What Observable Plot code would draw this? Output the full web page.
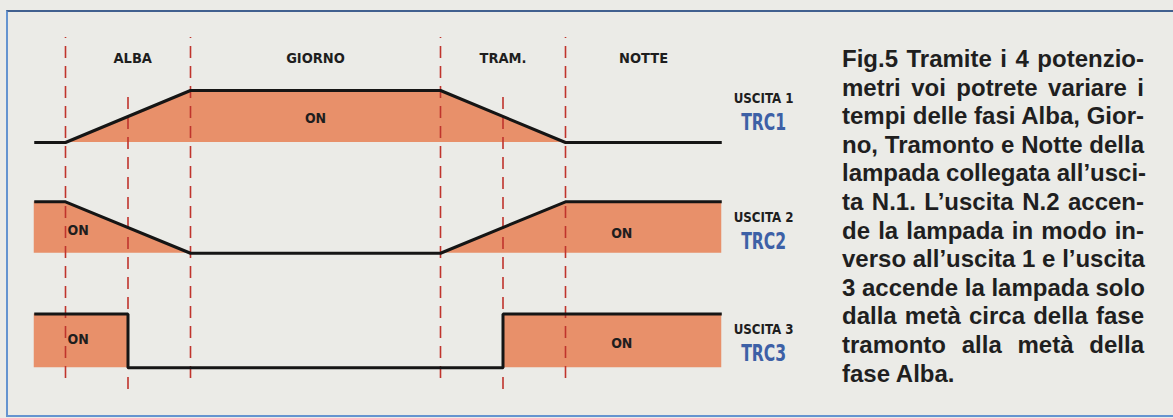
<!DOCTYPE html>
<html>
<head>
<meta charset="utf-8">
<script src="https://cdn.jsdelivr.net/npm/d3@7"></script>
<script src="https://cdn.jsdelivr.net/npm/@observablehq/plot@0.6"></script>
<style>
  html, body { margin: 0; padding: 0; background: #ebebe7; }
  #page { position: relative; width: 1173px; height: 418px; overflow: hidden; background: #ebebe7; }
  #frame { position: absolute; left: 6px; top: 10px; right: -4px; bottom: 1px;
           border-top: 2px solid #41608f; border-left: 2px solid #6594d0; border-bottom: 2px solid #6594d0; }
  #chart { position: absolute; left: 0; top: 0; }
  #caption { position: absolute; left: 842px; top: 45px; width: 302px;
             font-family: "Liberation Sans", Arial, sans-serif; font-weight: bold; font-size: 24px;
             line-height: 28.6px; color: #1f1f1f; }
  #caption div { text-align: justify; text-align-last: justify; white-space: nowrap; }
  #caption div.last { text-align-last: left; }
</style>
</head>
<body>
<div id="page">
  <div id="frame"></div>
  <div id="chart"></div>
  <div id="caption"></div>
</div>
<script>
// ---- data ----
const phases = ["ALBA", "GIORNO", "TRAM.", "NOTTE"];
const phaseStart = [0, 4, 12, 16];
const phaseEnd = [4, 12, 16, 21];
const halfMarks = [2, 14];               // metà Alba, metà Tramonto
const outputs = ["USCITA 1", "USCITA 2", "USCITA 3"];
const codes = ["TRC1", "TRC2", "TRC3"];
const time12 = [-1, 0, 4, 12, 16, 21];
const uscita1 = [0, 0, 1, 1, 0, 0];
const uscita2 = [1, 1, 0, 0, 1, 1];
const time3 = [-1, 2, 2, 14, 14, 21];
const uscita3 = [1, 1, 0, 0, 1, 1];
const onLabelRow = [0, 1, 1, 2, 2];
const onLabelT = [8, 0, 17.8, 0, 17.8];
const captionLines = [
  "Fig.5 Tramite i 4 potenzio-",
  "metri voi potrete variare i",
  "tempi delle fasi Alba, Gior-",
  "no, Tramonto e Notte della",
  "lampada collegata all\u2019usci-",
  "ta N.1. L\u2019uscita N.2 accen-",
  "de la lampada in modo in-",
  "verso all\u2019uscita 1 e l\u2019uscita",
  "3 accende la lampada solo",
  "dalla met\u00e0 circa della fase",
  "tramonto alla met\u00e0 della",
  "fase Alba."
];

// ---- layout ----
const rowBase = [0, -2.13, -4.33];
const rowAmp = [1, 0.99, 1.03];
const onLevel = [0.46, 0.45, 0.39, 0.52, 0.45];
const onAnchor = ["middle", "start", "middle", "start", "middle"];
const outLevel = [0.85, 0.68, 0.73];
const codeLevel = [0.39, 0.22, 0.27];
const labelT = 22.34;

const series = [
  {t: time12, v: uscita1},
  {t: time12, v: uscita2},
  {t: time3, v: uscita3}
];
const pts = series.flatMap((s, row) => s.t.map((t, i) => ({row, t, lvl: s.v[i]})));
const yOf = d => rowBase[d.row] + rowAmp[d.row] * d.lvl;

const narrow = "'Liberation Sans Narrow', 'DejaVu Sans Condensed', 'Roboto Condensed', 'Liberation Sans', sans-serif";
const red = "#c0342c";
const dash = "12,8";

const onLabels = onLabelRow.map((row, i) => ({row, t: onLabelT[i], lvl: onLevel[i], anchor: onAnchor[i]}));
const phaseLabels = phases.map((p, i) => ({p, t: (phaseStart[i] + phaseEnd[i]) / 2 + (i === 0 ? 0.15 : 0)}));
const rowLabels = outputs.map((o, row) => ({o, code: codes[row], row}));

const chart = Plot.plot({
  width: 830,
  height: 418,
  marginLeft: 33.75,
  marginRight: 830 - 721.25,
  marginTop: 0,
  marginBottom: 0,
  style: {background: "transparent", overflow: "visible"},
  x: {domain: [-1, 21], axis: null},
  y: {domain: [-5.308, 2.731], axis: null},
  marks: [
    Plot.areaY(pts, {x: "t", y1: d => rowBase[d.row], y2: yOf, z: "row", fill: "#e8906a", curve: "linear"}),
    Plot.ruleX(phaseStart, {x: d => d, y1: -4.538, y2: 2.019, stroke: red, strokeWidth: 1.6, strokeDasharray: dash}),
    Plot.ruleX(halfMarks, {x: d => d, y1: -4.75, y2: 0.865, stroke: red, strokeWidth: 1.6, strokeDasharray: dash}),
    Plot.line(pts, {x: "t", y: yOf, z: "row", stroke: "#151515", strokeWidth: 3, strokeLinecap: "butt", strokeLinejoin: "miter"}),
    Plot.text(phaseLabels, {x: "t", y: 1.615, text: "p", fontFamily: narrow, fontWeight: "bold", fontSize: 14.5, fill: "#1e1e1e"}),
    Plot.text(onLabels.filter(d => d.anchor === "middle"), {x: "t", y: yOf, text: () => "ON", fontFamily: narrow, fontWeight: "bold", fontSize: 14, fill: "#1e1e1e"}),
    Plot.text(onLabels.filter(d => d.anchor === "start"), {x: "t", y: yOf, text: () => "ON", textAnchor: "start", dx: 2, fontFamily: narrow, fontWeight: "bold", fontSize: 14, fill: "#1e1e1e"}),
    Plot.text(rowLabels, {x: labelT, y: d => rowBase[d.row] + outLevel[d.row], text: "o", fontFamily: narrow, fontWeight: "bold", fontSize: 14, fill: "#1e1e1e"}),
    Plot.text(rowLabels, {x: labelT, y: d => rowBase[d.row] + codeLevel[d.row], text: "code", fontFamily: narrow, fontWeight: "bold", fontSize: 23, fill: "#3d60a6"})
  ]
});
// condense the row labels like the printed originals
d3.select(chart).selectAll("text").each(function() {
  const s = this.textContent;
  if (codes.includes(s)) d3.select(this).attr("textLength", 45).attr("lengthAdjust", "spacingAndGlyphs");
  else if (outputs.includes(s)) d3.select(this).attr("textLength", 60).attr("lengthAdjust", "spacingAndGlyphs");
});
document.getElementById("chart").appendChild(chart);

const cap = document.getElementById("caption");
captionLines.forEach((line, i) => {
  const div = document.createElement("div");
  div.textContent = line;
  if (i === captionLines.length - 1) div.className = "last";
  cap.appendChild(div);
});
</script>
</body>
</html>
